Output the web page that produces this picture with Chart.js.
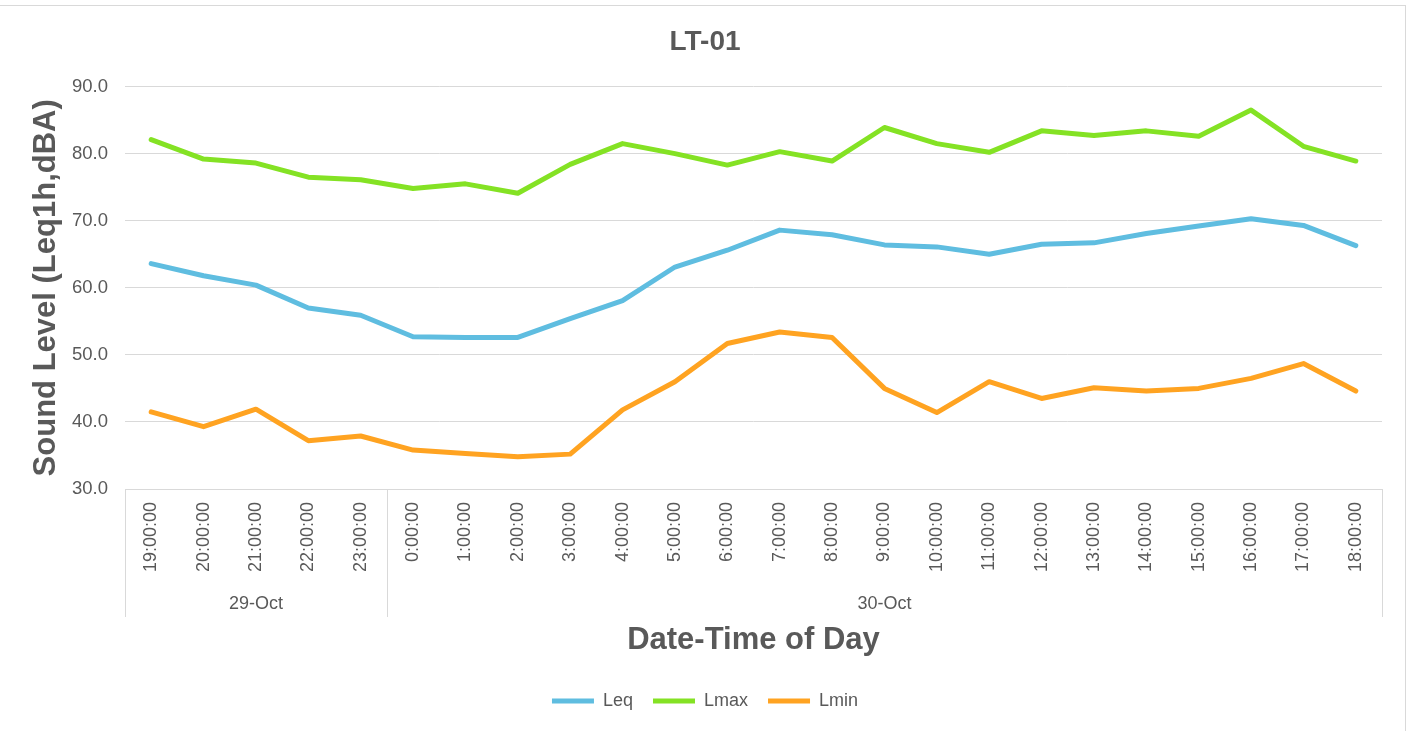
<!DOCTYPE html>
<html>
<head>
<meta charset="utf-8">
<script src="https://cdn.jsdelivr.net/npm/chart.js@4.4.1/dist/chart.umd.min.js"></script>
<style>
  html, body { margin: 0; padding: 0; background: #ffffff; }
  #wrap { width: 1410px; height: 731px; position: relative; }
</style>
</head>
<body>
<div id="wrap"><canvas id="c" width="1410" height="731"></canvas></div>
<script>
const timeLabels = ['19:00:00','20:00:00','21:00:00','22:00:00','23:00:00','0:00:00','1:00:00','2:00:00','3:00:00','4:00:00','5:00:00','6:00:00','7:00:00','8:00:00','9:00:00','10:00:00','11:00:00','12:00:00','13:00:00','14:00:00','15:00:00','16:00:00','17:00:00','18:00:00'];
const groupLabels = ['29-Oct', '30-Oct'];
const groupSizes = [5, 19];
const leq  = [63.6, 61.8, 60.4, 57.0, 55.9, 52.7, 52.6, 52.6, 55.4, 58.1, 63.1, 65.6, 68.6, 67.9, 66.4, 66.1, 65.0, 66.5, 66.7, 68.1, 69.2, 70.3, 69.3, 66.3];
const lmax = [82.1, 79.2, 78.6, 76.5, 76.1, 74.8, 75.5, 74.1, 78.4, 81.5, 80.0, 78.3, 80.3, 78.9, 83.9, 81.5, 80.2, 83.4, 82.7, 83.4, 82.6, 86.5, 81.1, 78.9];
const lmin = [41.5, 39.3, 41.9, 37.2, 37.9, 35.8, 35.3, 34.8, 35.2, 41.8, 46.0, 51.7, 53.4, 52.6, 45.0, 41.4, 46.0, 43.5, 45.1, 44.6, 45.0, 46.5, 48.7, 44.6];
const yMin = 30, yMax = 90, yStep = 10;

const FONT = "'Liberation Sans', Arial, sans-serif";
const TEXT = '#595959';
const GRID = '#d9d9d9';

const groupPlugin = {
  id: 'groupAxis',
  beforeDraw(chart) {
    const ctx = chart.ctx;
    ctx.save();
    ctx.strokeStyle = GRID;
    ctx.lineWidth = 1;
    ctx.strokeRect(-1, 5.5, 1406.5, 760);
    ctx.restore();
  },
  afterDraw(chart) {
    const x = chart.scales.x;
    const ctx = chart.ctx;
    const top = chart.chartArea.bottom;
    const bottom = 617;
    const boundary = (i) => {
      if (i <= 0) return x.left;
      if (i >= timeLabels.length) return x.right;
      return (x.getPixelForTick(i - 1) + x.getPixelForTick(i)) / 2;
    };
    ctx.save();
    ctx.strokeStyle = GRID;
    ctx.lineWidth = 1;
    let start = 0;
    const bounds = [0];
    groupSizes.forEach(n => { start += n; bounds.push(start); });
    bounds.forEach(b => {
      const px = Math.round(boundary(b)) + 0.5;
      ctx.beginPath();
      ctx.moveTo(px, top);
      ctx.lineTo(px, bottom);
      ctx.stroke();
    });
    ctx.fillStyle = TEXT;
    ctx.font = '18px ' + FONT;
    ctx.textAlign = 'center';
    ctx.textBaseline = 'middle';
    groupLabels.forEach((g, k) => {
      const l = boundary(bounds[k]);
      const r = boundary(bounds[k + 1]);
      ctx.fillText(g, (l + r) / 2, 604);
    });
    ctx.restore();
  }
};

const mk = (label, data, color) => ({
  label, data,
  borderColor: color,
  backgroundColor: color,
  borderWidth: 5,
  pointRadius: 0,
  pointHoverRadius: 0,
  tension: 0,
  borderJoinStyle: 'round',
  borderCapStyle: 'round',
  fill: false
});

new Chart(document.getElementById('c'), {
  type: 'line',
  data: {
    labels: timeLabels,
    datasets: [
      mk('Leq', leq, '#5FBDE0'),
      mk('Lmax', lmax, '#84E224'),
      mk('Lmin', lmin, '#FFA321')
    ]
  },
  options: {
    responsive: false,
    animation: false,
    layout: { padding: { left: 0, right: 0, top: 0, bottom: 11 } },
    plugins: {
      title: {
        display: true,
        text: 'LT-01',
        color: TEXT,
        font: { family: FONT, size: 28, weight: 'bold' },
        padding: { top: 25, bottom: 28 }
      },
      legend: {
        position: 'bottom',
        labels: {
          usePointStyle: true,
          pointStyle: 'line',
          pointStyleWidth: 42,
          padding: 20,
          color: TEXT,
          font: { family: FONT, size: 18 }
        }
      },
      tooltip: { enabled: false }
    },
    scales: {
      x: {
        type: 'category',
        offset: true,
        grid: { display: false, drawTicks: false },
        border: { display: true, color: GRID, width: 1 },
        ticks: {
          autoSkip: false,
          minRotation: 90,
          maxRotation: 90,
          padding: 13,
          color: TEXT,
          font: { family: FONT, size: 18 }
        },
        title: {
          display: true,
          text: 'Date-Time of Day',
          color: TEXT,
          font: { family: FONT, size: 31, weight: 'bold' },
          padding: { top: 0, bottom: 13.4 }
        },
        afterFit(s) { s.height = 183; }
      },
      y: {
        min: yMin,
        max: yMax,
        grid: { color: GRID, lineWidth: 1, drawTicks: false },
        border: { display: false },
        ticks: {
          stepSize: yStep,
          padding: 17,
          color: TEXT,
          font: { family: FONT, size: 18.5 },
          callback: v => Number(v).toFixed(1)
        },
        title: {
          display: true,
          text: 'Sound Level (Leq1h,dBA)',
          color: TEXT,
          font: { family: FONT, size: 31, weight: 'bold' },
          padding: { top: 27.5, bottom: 0 }
        },
        afterFit(s) { s.width = 125; }
      },
      rightSpace: {
        type: 'linear',
        position: 'right',
        display: true,
        grid: { display: false, drawTicks: false },
        border: { display: false },
        ticks: { display: false },
        afterFit(s) { s.width = 28; }
      }
    }
  },
  plugins: [groupPlugin]
});
</script>
</body>
</html>
